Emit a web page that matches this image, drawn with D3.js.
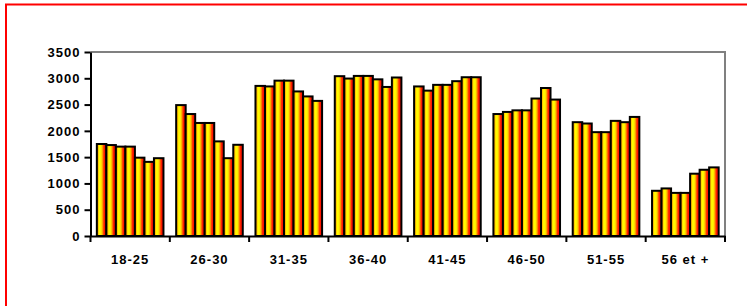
<!DOCTYPE html>
<html>
<head>
<meta charset="utf-8">
<script src="https://cdn.jsdelivr.net/npm/d3@7"></script>
<style>
  html, body { margin: 0; padding: 0; background: #fff; overflow: hidden; width: 747px; height: 306px; }
  svg { display: block; }
  text { font-family: "Liberation Sans", Arial, sans-serif; font-weight: bold; font-size: 13px; fill: #000; letter-spacing: 1px; }
</style>
</head>
<body>
<svg id="chart" width="747" height="306"></svg>
<script>
const categories = ["18-25", "26-30", "31-35", "36-40", "41-45", "46-50", "51-55", "56 et +"];
const seriesNames = ["s1", "s2", "s3", "s4", "s5", "s6", "s7"];
// values per category, one per series
const g1825 = [1750, 1730, 1700, 1700, 1490, 1410, 1480];
const g2630 = [2490, 2320, 2150, 2150, 1800, 1480, 1735];
const g3135 = [2855, 2845, 2955, 2955, 2750, 2655, 2570];
const g3640 = [3040, 2995, 3045, 3045, 2980, 2835, 3015];
const g4145 = [2845, 2765, 2875, 2875, 2945, 3020, 3020];
const g4650 = [2320, 2360, 2390, 2390, 2615, 2815, 2595];
const g5155 = [2165, 2140, 1975, 1975, 2190, 2165, 2265];
const g56 = [860, 905, 820, 820, 1185, 1260, 1305];
const groups = [g1825, g2630, g3135, g3640, g4145, g4650, g5155, g56];
const yTicks = [0, 500, 1000, 1500, 2000, 2500, 3000, 3500];

const svg = d3.select("#chart");
const pL = 90.5, pR = 725, pT = 52, pB = 236;

// outer red frame (only left and top edges are inside the window)
svg.append("path").attr("d", "M6,320V4.5H760")
  .attr("fill", "none").attr("stroke", "#ff0000").attr("stroke-width", 2);

const defs = svg.append("defs");
const grad = defs.append("linearGradient").attr("id", "fire")
  .attr("x1", "0%").attr("x2", "100%").attr("y1", "0%").attr("y2", "0%");
[[0, "#ff9900"], [0.12, "#ffb000"], [0.28, "#ffff00"], [0.45, "#ffee00"], [0.58, "#ffaa00"], [0.75, "#ff2200"], [1, "#ff0000"]].forEach(([o, c]) =>
  grad.append("stop").attr("offset", o).attr("stop-color", c));

const x = d3.scaleBand().domain(categories).range([pL, pR]).paddingInner(0.16).paddingOuter(0.08);
const xs = d3.scaleBand().domain(seriesNames).range([0, x.bandwidth()]).padding(0);
const y = d3.scaleLinear().domain([0, 3500]).range([pB, pT]);

// plot area border (top and right, gray)
svg.append("path").attr("d", `M${pL},${pT}H${pR}V${pB}`)
  .attr("fill", "none").attr("stroke", "#808080").attr("stroke-width", 2);

// bars
const gCat = svg.append("g").selectAll("g").data(groups).join("g")
  .attr("transform", (d, i) => `translate(${x(categories[i])},0)`);
gCat.selectAll("rect").data(d => d.map((v, j) => ({ v, s: seriesNames[j] }))).join("rect")
  .attr("x", d => xs(d.s))
  .attr("y", d => y(d.v))
  .attr("width", xs.bandwidth())
  .attr("height", d => y(0) - y(d.v))
  .attr("fill", "url(#fire)")
  .attr("stroke", "#000").attr("stroke-width", 2);

// y axis
const yAxis = svg.append("g").attr("transform", `translate(${pL},0)`)
  .call(d3.axisLeft(y).tickValues(yTicks).tickFormat(d3.format("d")).tickSize(6).tickPadding(4).tickSizeOuter(0));
yAxis.select(".domain").attr("stroke", "#000").attr("stroke-width", 2);
yAxis.selectAll(".tick line").attr("stroke", "#000").attr("stroke-width", 2);

// x axis
const xAxis = svg.append("g").attr("transform", `translate(0,${pB})`)
  .call(d3.axisBottom(x).tickSize(0).tickPadding(19).tickSizeOuter(0));
xAxis.select(".domain").attr("stroke", "#000").attr("stroke-width", 2);
// category boundary ticks
const step = x.step();
const bounds = d3.range(categories.length + 1).map(i => pL + i * step);
xAxis.selectAll(".bound").data(bounds).join("line").attr("class", "bound")
  .attr("x1", d => d).attr("x2", d => d).attr("y1", 0).attr("y2", 6)
  .attr("stroke", "#000").attr("stroke-width", 2);
svg.selectAll("g text").attr("font-family", null).attr("font-size", null);
</script>
</body>
</html>
